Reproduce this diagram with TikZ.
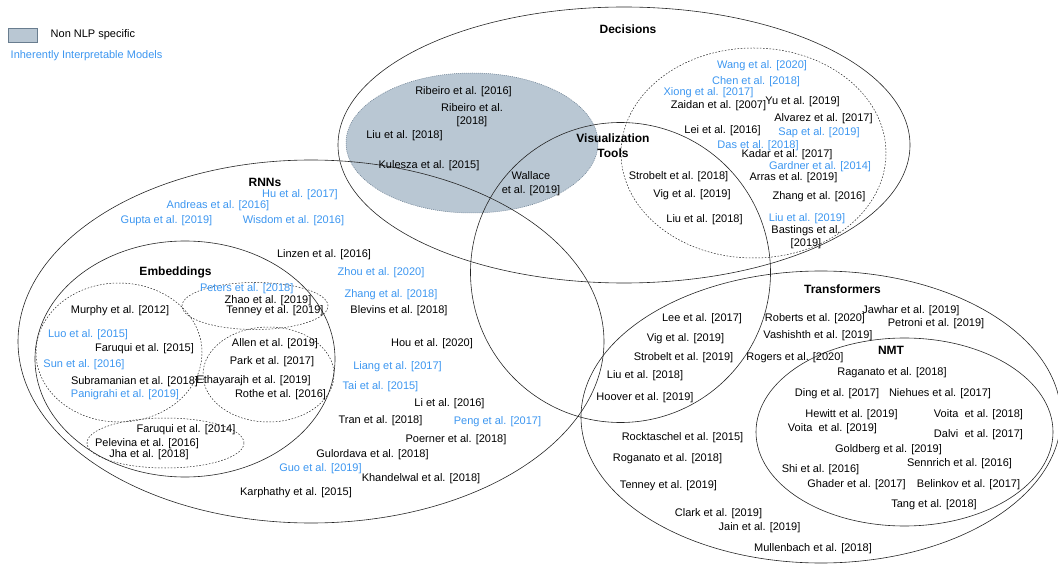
\documentclass[tikz,border=0pt]{standalone}
\usepackage{fontspec}
\setmainfont{Liberation Sans}
\definecolor{ilblue}{RGB}{60,150,240}
\definecolor{nonnlp}{RGB}{185,199,211}
\definecolor{nonnlpedge}{RGB}{105,125,143}
\tikzset{
  ref/.style={inner sep=0pt, font=\fontsize{11}{13.5}\selectfont, align=center},
  il/.style={ref, text=ilblue},
  ttl/.style={inner sep=0pt, font=\fontsize{12}{15}\selectfont\bfseries, align=center},
  ring/.style={draw=black!85, line width=0.6pt},
  dring/.style={draw=black!85, line width=0.5pt, dash pattern=on 1.6pt off 1.6pt},
  nlpzone/.style={fill=nonnlp, draw=nonnlpedge, line width=0.5pt, dash pattern=on 1pt off 1pt},
}
\begin{document}
\begin{tikzpicture}[x=1pt,y=-1pt]
\useasboundingbox (0,0) rectangle (1058,564);
\clip (0,0) rectangle (1058,564);

% legend
\node[draw=nonnlpedge, fill=nonnlp, line width=0.6pt, minimum width=29pt, minimum height=14pt, inner sep=0pt] (legbox) at (22.5,35) {};
\node[ref, anchor=west] (legnon) at (50.5,35) {Non NLP specific};
\node[il, anchor=west] (legil) at (10.5,56) {Inherently Interpretable Models};

% regions
\path[nlpzone] (472,143) ellipse [x radius=126pt, y radius=70pt];
\path[ring] (624,145) ellipse [x radius=286pt, y radius=138pt];      % Decisions
\path[dring] (753.5,153) ellipse [x radius=132.5pt, y radius=105pt]; % Decisions dashed
\path[ring] (620.5,272.5) ellipse [x radius=150pt, y radius=150pt];  % Visualization tools
\path[ring] (311,341.5) ellipse [x radius=293pt, y radius=181.5pt];  % RNNs
\path[ring] (185,359) ellipse [x radius=150pt, y radius=118pt];      % Embeddings
\path[dring] (119,352.5) ellipse [x radius=83pt, y radius=69.5pt];
\path[dring] (255,306) ellipse [x radius=73pt, y radius=23.5pt];
\path[dring] (268.5,374.5) ellipse [x radius=65.5pt, y radius=47.5pt];
\path[dring] (165.5,443) ellipse [x radius=78.5pt, y radius=25pt];
\path[ring] (821,417) ellipse [x radius=240pt, y radius=146pt];      % Transformers
\path[ring] (904.5,432) ellipse [x radius=148.5pt, y radius=94pt];   % NMT

% titles
\node[ttl] (tdec) at (628,29) {Decisions};
\node[ttl] (tviz) at (613,146) {Visualization\\Tools};
\node[ttl] (trnn) at (265,182.8) {RNNs};
\node[ttl] (temb) at (175.5,272.3) {Embeddings};
\node[ttl] (ttra) at (842.5,289) {Transformers};
\node[ttl] (tnmt) at (891,350) {NMT};

% non NLP specific
\node[ref] (rib16) at (463.5,92) {Ribeiro et al. [2016]};
\node[ref] (rib18) at (472,115) {Ribeiro et al.\\{[2018]}};
\node[ref] (liu18a) at (404.5,136) {Liu et al. [2018]};
\node[ref] (kul15) at (429,166) {Kulesza et al. [2015]};
\node[ref] (wal19) at (531,183.5) {Wallace\\et al. [2019]};

% decisions
\node[il] (wan20) at (762,65.7) {Wang et al. [2020]};
\node[il] (che18) at (756,82) {Chen et al. [2018]};
\node[il] (xio17) at (708.5,92.3) {Xiong et al. [2017]};
\node[ref] (zai07) at (718.5,106) {Zaidan et al. [2007]};
\node[ref] (yu19) at (802.5,101.3) {Yu et al. [2019]};
\node[ref] (alv17) at (823.5,118.3) {Alvarez et al. [2017]};
\node[ref] (lei16) at (722.5,130.7) {Lei et al. [2016]};
\node[il] (sap19) at (819,132.7) {Sap et al. [2019]};
\node[il] (das18) at (758,145.3) {Das et al. [2018]};
\node[ref] (kad17) at (787,154.3) {Kadar et al. [2017]};
\node[il] (gar14) at (820,167) {Gardner et al. [2014]};
\node[ref] (str18) at (678.5,176.7) {Strobelt et al. [2018]};
\node[ref] (arr19) at (793.5,177.7) {Arras et al. [2019]};
\node[ref] (vig19a) at (692,194.3) {Vig et al. [2019]};
\node[ref] (zha16) at (819,196.7) {Zhang et al. [2016]};
\node[ref] (liu18b) at (704.5,220) {Liu et al. [2018]};
\node[il] (liu19) at (807,219) {Liu et al. [2019]};
\node[ref] (bas19) at (806,237) {Bastings et al.\\{[2019]}};

% RNNs
\node[il] (hu17) at (300,194.3) {Hu et al. [2017]};
\node[il] (and16) at (218,205.5) {Andreas et al. [2016]};
\node[il] (gup19) at (166.5,221) {Gupta et al. [2019]};
\node[il] (wis16) at (293.5,221) {Wisdom et al. [2016]};
\node[ref] (lin16) at (324,254.3) {Linzen et al. [2016]};
\node[il] (zho20) at (381,272.3) {Zhou et al. [2020]};
\node[il] (zha18) at (391,294.3) {Zhang et al. [2018]};
\node[ref] (ble18) at (399,310.7) {Blevins et al. [2018]};
\node[ref] (hou20) at (432,344) {Hou et al. [2020]};
\node[il] (lia17) at (397.5,366.7) {Liang et al. [2017]};
\node[il] (tai15) at (380.5,386.7) {Tai et al. [2015]};
\node[ref] (li16) at (449.5,404) {Li et al. [2016]};
\node[ref] (tra18) at (380.5,420.7) {Tran et al. [2018]};
\node[il] (pen17) at (497.5,421.7) {Peng et al. [2017]};
\node[ref] (poe18) at (456,439.3) {Poerner et al. [2018]};
\node[ref] (gul18) at (372.5,455) {Gulordava et al. [2018]};
\node[il] (guo19) at (320.5,469) {Guo et al. [2019]};
\node[ref] (kha18) at (421,478.3) {Khandelwal et al. [2018]};
\node[ref] (kar15) at (296,492.7) {Karphathy et al. [2015]};

% embeddings
\node[il] (pet18) at (246.7,289) {Peters et al. [2018]};
\node[ref] (zha19) at (268,300.7) {Zhao et al. [2019]};
\node[ref] (ten19a) at (275,311) {Tenney et al. [2019]};
\node[ref] (mur12) at (120,311) {Murphy et al. [2012]};
\node[il] (luo15) at (88,335) {Luo et al. [2015]};
\node[ref] (far15) at (144.5,349) {Faruqui et al. [2015]};
\node[ref] (all19) at (275,344) {Allen et al. [2019]};
\node[il] (sun16) at (84,365) {Sun et al. [2016]};
\node[ref] (par17) at (272,361.3) {Park et al. [2017]};
\node[ref] (sub18) at (134.5,381.3) {Subramanian et al. [2018]};
\node[ref] (eth19) at (253.5,380.3) {Ethayarajh et al. [2019]};
\node[il] (pan19) at (125,394.7) {Panigrahi et al. [2019]};
\node[ref] (rot16) at (280.5,394.7) {Rothe et al. [2016]};
\node[ref] (far14) at (186,429.3) {Faruqui et al. [2014]};
\node[ref] (pel16) at (147,443.3) {Pelevina et al. [2016]};
\node[ref] (jha18) at (149,455) {Jha et al. [2018]};

% transformers
\node[ref] (jaw19) at (911,310.7) {Jawhar et al. [2019]};
\node[ref] (rob20) at (815,319) {Roberts et al. [2020]};
\node[ref] (pet19) at (936,324) {Petroni et al. [2019]};
\node[ref] (lee17) at (702,318.3) {Lee et al. [2017]};
\node[ref] (vig19b) at (685.5,338.3) {Vig et al. [2019]};
\node[ref] (vas19) at (818,335.7) {Vashishth et al. [2019]};
\node[ref] (str19) at (683.5,358) {Strobelt et al. [2019]};
\node[ref] (rog20) at (795,357.3) {Rogers et al. [2020]};
\node[ref] (liu18c) at (645,375.7) {Liu et al. [2018]};
\node[ref] (hoo19) at (645,397.7) {Hoover et al. [2019]};
\node[ref] (roc15) at (682.5,437.3) {Rocktaschel et al. [2015]};
\node[ref] (rog18) at (667.5,458.3) {Roganato et al. [2018]};
\node[ref] (ten19b) at (668.5,486) {Tenney et al. [2019]};
\node[ref] (cla19) at (718.5,514) {Clark et al. [2019]};
\node[ref] (jai19) at (759.5,527.7) {Jain et al. [2019]};
\node[ref] (mul18) at (813,549) {Mullenbach et al. [2018]};

% NMT
\node[ref] (rag18) at (892,372.7) {Raganato et al. [2018]};
\node[ref] (din17) at (837,393.3) {Ding et al. [2017]};
\node[ref] (nie17) at (940,393.3) {Niehues et al. [2017]};
\node[ref] (hew19) at (851.5,414.3) {Hewitt et al. [2019]};
\node[ref] (voi18) at (978.5,414.3) {Voita\ \ et al. [2018]};
\node[ref] (voi19) at (832.5,428.3) {Voita\ \ et al. [2019]};
\node[ref] (dal17) at (978.5,435) {Dalvi\ \ et al. [2017]};
\node[ref] (gol19) at (888.5,449.3) {Goldberg et al. [2019]};
\node[ref] (sen16) at (959.5,463.3) {Sennrich et al. [2016]};
\node[ref] (shi16) at (820.5,470) {Shi et al. [2016]};
\node[ref] (gha17) at (856.5,484.3) {Ghader et al. [2017]};
\node[ref] (bel17) at (968.5,484.3) {Belinkov et al. [2017]};
\node[ref] (tan18) at (934,505) {Tang et al. [2018]};
\end{tikzpicture}
\end{document}
